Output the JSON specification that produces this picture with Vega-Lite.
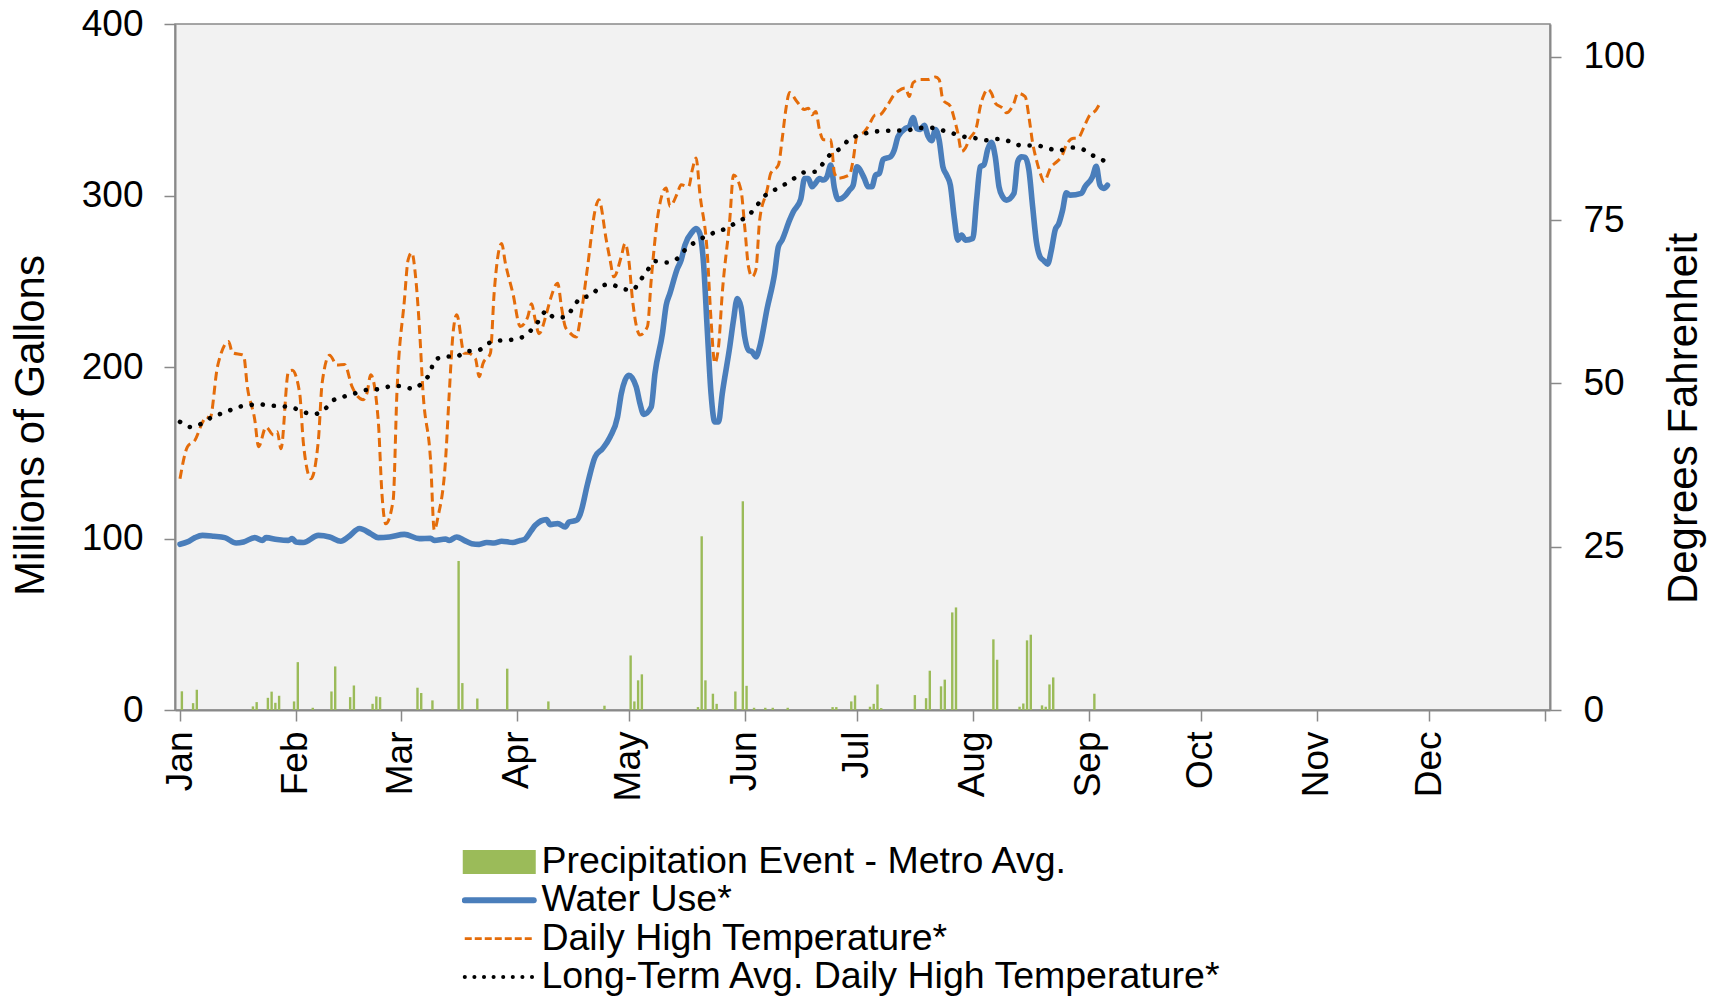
{
  "$schema": "https://vega.github.io/schema/vega-lite/v6.json",
  "width": 1375,
  "height": 686,
  "autosize": {"type": "none"},
  "padding": {"left": 175, "top": 24, "right": 167, "bottom": 292},
  "background": "white",
  "config": {
    "font": "Liberation Sans",
    "view": {"fill": "#F2F2F2", "stroke": "#898989", "strokeWidth": 1.5},
    "axis": {
      "grid": false,
      "domainColor": "#898989",
      "domainWidth": 2,
      "tickColor": "#898989",
      "tickWidth": 1.5,
      "tickSize": 11,
      "labelColor": "#000000",
      "labelFontSize": 37,
      "labelFont": "Liberation Sans",
      "labelFlush": false,
      "labelOverlap": false,
      "labelBound": false,
      "titleColor": "#000000",
      "titleFont": "Liberation Sans",
      "titleFontSize": 42,
      "titleFontWeight": "normal"
    }
  },
  "datasets": {
    "precip": [
      {"date": "2013-01-01T12:00:00Z", "value": 10.9},
      {"date": "2013-01-04T12:00:00Z", "value": 4.0},
      {"date": "2013-01-05T12:00:00Z", "value": 11.8},
      {"date": "2013-01-20T12:00:00Z", "value": 2.1},
      {"date": "2013-01-21T12:00:00Z", "value": 4.6},
      {"date": "2013-01-24T12:00:00Z", "value": 7.1},
      {"date": "2013-01-25T12:00:00Z", "value": 10.7},
      {"date": "2013-01-26T12:00:00Z", "value": 4.2},
      {"date": "2013-01-27T12:00:00Z", "value": 8.3},
      {"date": "2013-01-31T12:00:00Z", "value": 5.0},
      {"date": "2013-02-01T12:00:00Z", "value": 27.9},
      {"date": "2013-02-05T12:00:00Z", "value": 1.3},
      {"date": "2013-02-10T12:00:00Z", "value": 10.8},
      {"date": "2013-02-11T12:00:00Z", "value": 25.4},
      {"date": "2013-02-15T12:00:00Z", "value": 7.5},
      {"date": "2013-02-16T12:00:00Z", "value": 14.3},
      {"date": "2013-02-21T12:00:00Z", "value": 3.6},
      {"date": "2013-02-22T12:00:00Z", "value": 7.9},
      {"date": "2013-02-23T12:00:00Z", "value": 7.5},
      {"date": "2013-03-05T12:00:00Z", "value": 13.0},
      {"date": "2013-03-06T12:00:00Z", "value": 9.9},
      {"date": "2013-03-09T12:00:00Z", "value": 5.6},
      {"date": "2013-03-16T12:00:00Z", "value": 86.9},
      {"date": "2013-03-17T12:00:00Z", "value": 15.7},
      {"date": "2013-03-21T12:00:00Z", "value": 6.7},
      {"date": "2013-03-29T12:00:00Z", "value": 24.1},
      {"date": "2013-04-09T12:00:00Z", "value": 5.0},
      {"date": "2013-04-24T12:00:00Z", "value": 2.5},
      {"date": "2013-05-01T12:00:00Z", "value": 31.8},
      {"date": "2013-05-02T12:00:00Z", "value": 5.0},
      {"date": "2013-05-03T12:00:00Z", "value": 17.3},
      {"date": "2013-05-04T12:00:00Z", "value": 20.8},
      {"date": "2013-05-19T12:00:00Z", "value": 1.7},
      {"date": "2013-05-20T12:00:00Z", "value": 101.3},
      {"date": "2013-05-21T12:00:00Z", "value": 17.3},
      {"date": "2013-05-23T12:00:00Z", "value": 9.5},
      {"date": "2013-05-24T12:00:00Z", "value": 3.6},
      {"date": "2013-05-29T12:00:00Z", "value": 10.8},
      {"date": "2013-05-31T12:00:00Z", "value": 121.7},
      {"date": "2013-06-01T12:00:00Z", "value": 14.1},
      {"date": "2013-06-03T12:00:00Z", "value": 1.3},
      {"date": "2013-06-06T12:00:00Z", "value": 1.3},
      {"date": "2013-06-08T12:00:00Z", "value": 1.3},
      {"date": "2013-06-12T12:00:00Z", "value": 1.3},
      {"date": "2013-06-24T12:00:00Z", "value": 1.7},
      {"date": "2013-06-25T12:00:00Z", "value": 1.7},
      {"date": "2013-06-29T12:00:00Z", "value": 5.0},
      {"date": "2013-06-30T12:00:00Z", "value": 8.5},
      {"date": "2013-07-04T12:00:00Z", "value": 1.9},
      {"date": "2013-07-05T12:00:00Z", "value": 3.6},
      {"date": "2013-07-06T12:00:00Z", "value": 14.9},
      {"date": "2013-07-07T12:00:00Z", "value": 1.1},
      {"date": "2013-07-16T12:00:00Z", "value": 8.7},
      {"date": "2013-07-19T12:00:00Z", "value": 6.9},
      {"date": "2013-07-20T12:00:00Z", "value": 22.9},
      {"date": "2013-07-23T12:00:00Z", "value": 13.8},
      {"date": "2013-07-24T12:00:00Z", "value": 17.7},
      {"date": "2013-07-26T12:00:00Z", "value": 56.9},
      {"date": "2013-07-27T12:00:00Z", "value": 59.8},
      {"date": "2013-08-06T12:00:00Z", "value": 41.2},
      {"date": "2013-08-07T12:00:00Z", "value": 29.3},
      {"date": "2013-08-13T12:00:00Z", "value": 1.9},
      {"date": "2013-08-14T12:00:00Z", "value": 3.8},
      {"date": "2013-08-15T12:00:00Z", "value": 40.6},
      {"date": "2013-08-16T12:00:00Z", "value": 43.9},
      {"date": "2013-08-19T12:00:00Z", "value": 2.7},
      {"date": "2013-08-20T12:00:00Z", "value": 1.9},
      {"date": "2013-08-21T12:00:00Z", "value": 14.9},
      {"date": "2013-08-22T12:00:00Z", "value": 19.0},
      {"date": "2013-09-02T12:00:00Z", "value": 9.5}
    ],
    "water": [
      {"date": "2013-01-01", "value": 96.6}, {"date": "2013-01-03", "value": 98.0}, {"date": "2013-01-05", "value": 100.5},
      {"date": "2013-01-07", "value": 101.8}, {"date": "2013-01-10", "value": 101.3}, {"date": "2013-01-13", "value": 100.5},
      {"date": "2013-01-16", "value": 97.4}, {"date": "2013-01-18", "value": 98.0}, {"date": "2013-01-21", "value": 100.5},
      {"date": "2013-01-23", "value": 98.9}, {"date": "2013-01-24", "value": 100.5}, {"date": "2013-01-27", "value": 99.4},
      {"date": "2013-01-30", "value": 98.9}, {"date": "2013-01-31", "value": 99.9}, {"date": "2013-02-01", "value": 98.0},
      {"date": "2013-02-03", "value": 97.7}, {"date": "2013-02-07", "value": 101.8}, {"date": "2013-02-10", "value": 100.9},
      {"date": "2013-02-13", "value": 98.4}, {"date": "2013-02-15", "value": 100.9}, {"date": "2013-02-18", "value": 105.8},
      {"date": "2013-02-21", "value": 102.8}, {"date": "2013-02-23", "value": 100.5}, {"date": "2013-02-26", "value": 100.9},
      {"date": "2013-03-02", "value": 102.4}, {"date": "2013-03-06", "value": 99.9}, {"date": "2013-03-09", "value": 100.1},
      {"date": "2013-03-10", "value": 98.9}, {"date": "2013-03-13", "value": 99.7}, {"date": "2013-03-14", "value": 98.9},
      {"date": "2013-03-16", "value": 100.9}, {"date": "2013-03-18", "value": 98.9}, {"date": "2013-03-20", "value": 97.0},
      {"date": "2013-03-22", "value": 96.6}, {"date": "2013-03-24", "value": 97.7}, {"date": "2013-03-26", "value": 97.4},
      {"date": "2013-03-28", "value": 98.4}, {"date": "2013-03-31", "value": 97.7}, {"date": "2013-04-02", "value": 98.9},
      {"date": "2013-04-03", "value": 99.3}, {"date": "2013-04-05", "value": 104.8}, {"date": "2013-04-06", "value": 107.7},
      {"date": "2013-04-09", "value": 111.0}, {"date": "2013-04-10", "value": 108.1}, {"date": "2013-04-12", "value": 108.7},
      {"date": "2013-04-14", "value": 106.7}, {"date": "2013-04-15", "value": 109.6}, {"date": "2013-04-17", "value": 110.6},
      {"date": "2013-04-18", "value": 114.1}, {"date": "2013-04-20", "value": 132.0}, {"date": "2013-04-22", "value": 147.6},
      {"date": "2013-04-24", "value": 152.4}, {"date": "2013-04-26", "value": 159.2}, {"date": "2013-04-28", "value": 170.9},
      {"date": "2013-04-29", "value": 184.5}, {"date": "2013-04-30", "value": 192.3}, {"date": "2013-05-01", "value": 195.2},
      {"date": "2013-05-03", "value": 188.4}, {"date": "2013-05-04", "value": 178.7}, {"date": "2013-05-05", "value": 172.4},
      {"date": "2013-05-07", "value": 176.7}, {"date": "2013-05-08", "value": 196.2}, {"date": "2013-05-10", "value": 219.5},
      {"date": "2013-05-11", "value": 236.0}, {"date": "2013-05-12", "value": 242.9}, {"date": "2013-05-14", "value": 257.4},
      {"date": "2013-05-15", "value": 262.3}, {"date": "2013-05-16", "value": 271.0}, {"date": "2013-05-18", "value": 278.8},
      {"date": "2013-05-19", "value": 280.8}, {"date": "2013-05-20", "value": 277.8}, {"date": "2013-05-21", "value": 260.3},
      {"date": "2013-05-22", "value": 221.4}, {"date": "2013-05-23", "value": 184.5}, {"date": "2013-05-24", "value": 168.0},
      {"date": "2013-05-25", "value": 168.0}, {"date": "2013-05-26", "value": 184.5}, {"date": "2013-05-28", "value": 211.7},
      {"date": "2013-05-29", "value": 227.3}, {"date": "2013-05-30", "value": 239.9}, {"date": "2013-05-31", "value": 235.0},
      {"date": "2013-06-01", "value": 217.6}, {"date": "2013-06-02", "value": 209.8}, {"date": "2013-06-03", "value": 208.8},
      {"date": "2013-06-04", "value": 205.9}, {"date": "2013-06-05", "value": 211.7}, {"date": "2013-06-07", "value": 234.1},
      {"date": "2013-06-09", "value": 254.5}, {"date": "2013-06-10", "value": 270.1}, {"date": "2013-06-11", "value": 274.0},
      {"date": "2013-06-13", "value": 285.6}, {"date": "2013-06-14", "value": 290.5}, {"date": "2013-06-16", "value": 298.0},
      {"date": "2013-06-17", "value": 309.9}, {"date": "2013-06-18", "value": 309.9}, {"date": "2013-06-19", "value": 305.1},
      {"date": "2013-06-20", "value": 307.4}, {"date": "2013-06-21", "value": 309.9}, {"date": "2013-06-22", "value": 309.0},
      {"date": "2013-06-23", "value": 310.9}, {"date": "2013-06-24", "value": 317.7}, {"date": "2013-06-25", "value": 304.1},
      {"date": "2013-06-26", "value": 297.7}, {"date": "2013-06-28", "value": 300.2}, {"date": "2013-06-29", "value": 303.1},
      {"date": "2013-06-30", "value": 306.0}, {"date": "2013-07-01", "value": 316.7}, {"date": "2013-07-03", "value": 309.9},
      {"date": "2013-07-04", "value": 305.1}, {"date": "2013-07-05", "value": 305.1}, {"date": "2013-07-06", "value": 311.9},
      {"date": "2013-07-07", "value": 312.9}, {"date": "2013-07-08", "value": 321.0}, {"date": "2013-07-10", "value": 322.6},
      {"date": "2013-07-11", "value": 326.5}, {"date": "2013-07-12", "value": 334.3}, {"date": "2013-07-14", "value": 339.1},
      {"date": "2013-07-15", "value": 340.1}, {"date": "2013-07-16", "value": 345.5}, {"date": "2013-07-17", "value": 339.1},
      {"date": "2013-07-18", "value": 338.5}, {"date": "2013-07-19", "value": 341.0}, {"date": "2013-07-20", "value": 334.6},
      {"date": "2013-07-21", "value": 331.9}, {"date": "2013-07-22", "value": 338.5}, {"date": "2013-07-23", "value": 332.3},
      {"date": "2013-07-24", "value": 316.7}, {"date": "2013-07-25", "value": 311.9}, {"date": "2013-07-26", "value": 306.0},
      {"date": "2013-07-27", "value": 287.6}, {"date": "2013-07-28", "value": 274.0}, {"date": "2013-07-29", "value": 276.9},
      {"date": "2013-07-30", "value": 274.0}, {"date": "2013-08-01", "value": 275.0}, {"date": "2013-08-02", "value": 297.3},
      {"date": "2013-08-03", "value": 316.7}, {"date": "2013-08-04", "value": 318.0}, {"date": "2013-08-05", "value": 327.0},
      {"date": "2013-08-06", "value": 331.0}, {"date": "2013-08-07", "value": 322.6}, {"date": "2013-08-08", "value": 305.1},
      {"date": "2013-08-09", "value": 299.2}, {"date": "2013-08-10", "value": 297.3}, {"date": "2013-08-12", "value": 301.2},
      {"date": "2013-08-13", "value": 319.7}, {"date": "2013-08-14", "value": 322.6}, {"date": "2013-08-15", "value": 322.2},
      {"date": "2013-08-16", "value": 314.8}, {"date": "2013-08-17", "value": 293.4}, {"date": "2013-08-18", "value": 273.0},
      {"date": "2013-08-19", "value": 264.2}, {"date": "2013-08-20", "value": 262.0}, {"date": "2013-08-21", "value": 260.0},
      {"date": "2013-08-22", "value": 268.1}, {"date": "2013-08-23", "value": 279.8}, {"date": "2013-08-24", "value": 283.7},
      {"date": "2013-08-25", "value": 291.4}, {"date": "2013-08-26", "value": 301.6}, {"date": "2013-08-27", "value": 300.2},
      {"date": "2013-08-30", "value": 301.2}, {"date": "2013-08-31", "value": 305.1}, {"date": "2013-09-02", "value": 310.9},
      {"date": "2013-09-03", "value": 317.0}, {"date": "2013-09-04", "value": 306.0}, {"date": "2013-09-05", "value": 304.1},
      {"date": "2013-09-06", "value": 306.0}
    ],
    "temp": [
      {"date": "2013-01-01", "value": 35.4}, {"date": "2013-01-03", "value": 40.3}, {"date": "2013-01-05", "value": 41.3},
      {"date": "2013-01-07", "value": 44.0}, {"date": "2013-01-08", "value": 44.9}, {"date": "2013-01-09", "value": 44.6},
      {"date": "2013-01-11", "value": 52.5}, {"date": "2013-01-12", "value": 54.6}, {"date": "2013-01-14", "value": 56.4},
      {"date": "2013-01-15", "value": 54.7}, {"date": "2013-01-18", "value": 54.3}, {"date": "2013-01-19", "value": 49.5},
      {"date": "2013-01-21", "value": 44.4}, {"date": "2013-01-22", "value": 40.3}, {"date": "2013-01-24", "value": 43.3},
      {"date": "2013-01-26", "value": 42.1}, {"date": "2013-01-27", "value": 42.6}, {"date": "2013-01-28", "value": 40.0},
      {"date": "2013-01-30", "value": 51.8}, {"date": "2013-01-31", "value": 52.0}, {"date": "2013-02-02", "value": 48.5},
      {"date": "2013-02-03", "value": 40.8}, {"date": "2013-02-05", "value": 35.4}, {"date": "2013-02-07", "value": 41.3},
      {"date": "2013-02-08", "value": 50.0}, {"date": "2013-02-10", "value": 54.3}, {"date": "2013-02-12", "value": 52.8},
      {"date": "2013-02-14", "value": 52.9}, {"date": "2013-02-16", "value": 49.5}, {"date": "2013-02-19", "value": 47.5},
      {"date": "2013-02-20", "value": 48.5}, {"date": "2013-02-21", "value": 51.3}, {"date": "2013-02-23", "value": 44.4},
      {"date": "2013-02-24", "value": 33.1}, {"date": "2013-02-25", "value": 28.5}, {"date": "2013-02-27", "value": 32.1},
      {"date": "2013-02-28", "value": 48.5}, {"date": "2013-03-02", "value": 62.7}, {"date": "2013-03-03", "value": 68.9},
      {"date": "2013-03-04", "value": 70.0}, {"date": "2013-03-05", "value": 66.3}, {"date": "2013-03-06", "value": 58.7},
      {"date": "2013-03-07", "value": 48.5}, {"date": "2013-03-09", "value": 38.2}, {"date": "2013-03-10", "value": 27.5},
      {"date": "2013-03-11", "value": 29.6}, {"date": "2013-03-13", "value": 38.2}, {"date": "2013-03-14", "value": 48.5},
      {"date": "2013-03-15", "value": 57.6}, {"date": "2013-03-16", "value": 60.5}, {"date": "2013-03-18", "value": 54.6},
      {"date": "2013-03-19", "value": 54.6}, {"date": "2013-03-21", "value": 53.8}, {"date": "2013-03-22", "value": 51.0},
      {"date": "2013-03-23", "value": 53.0}, {"date": "2013-03-25", "value": 54.6}, {"date": "2013-03-26", "value": 63.8},
      {"date": "2013-03-28", "value": 71.4}, {"date": "2013-03-29", "value": 68.4}, {"date": "2013-03-31", "value": 63.8},
      {"date": "2013-04-02", "value": 58.7}, {"date": "2013-04-04", "value": 60.2}, {"date": "2013-04-05", "value": 62.2},
      {"date": "2013-04-06", "value": 59.7}, {"date": "2013-04-07", "value": 57.6}, {"date": "2013-04-09", "value": 60.7},
      {"date": "2013-04-10", "value": 62.8}, {"date": "2013-04-12", "value": 65.3}, {"date": "2013-04-13", "value": 61.7},
      {"date": "2013-04-14", "value": 58.7}, {"date": "2013-04-15", "value": 57.9}, {"date": "2013-04-17", "value": 57.1},
      {"date": "2013-04-18", "value": 59.7}, {"date": "2013-04-20", "value": 67.9}, {"date": "2013-04-22", "value": 76.5},
      {"date": "2013-04-23", "value": 78.1}, {"date": "2013-04-25", "value": 71.9}, {"date": "2013-04-26", "value": 68.9},
      {"date": "2013-04-27", "value": 66.3}, {"date": "2013-04-29", "value": 69.4}, {"date": "2013-04-30", "value": 71.4},
      {"date": "2013-05-01", "value": 68.9}, {"date": "2013-05-02", "value": 62.8}, {"date": "2013-05-04", "value": 57.4},
      {"date": "2013-05-06", "value": 58.7}, {"date": "2013-05-07", "value": 65.8}, {"date": "2013-05-09", "value": 76.5},
      {"date": "2013-05-11", "value": 79.9}, {"date": "2013-05-12", "value": 77.1}, {"date": "2013-05-14", "value": 79.1},
      {"date": "2013-05-15", "value": 80.4}, {"date": "2013-05-17", "value": 80.1}, {"date": "2013-05-18", "value": 82.7},
      {"date": "2013-05-19", "value": 84.5}, {"date": "2013-05-20", "value": 79.1}, {"date": "2013-05-22", "value": 69.9},
      {"date": "2013-05-23", "value": 59.7}, {"date": "2013-05-24", "value": 53.1}, {"date": "2013-05-25", "value": 55.6},
      {"date": "2013-05-26", "value": 63.8}, {"date": "2013-05-28", "value": 75.0}, {"date": "2013-05-29", "value": 81.9},
      {"date": "2013-05-31", "value": 79.6}, {"date": "2013-06-01", "value": 74.0}, {"date": "2013-06-02", "value": 67.9},
      {"date": "2013-06-03", "value": 66.3}, {"date": "2013-06-04", "value": 67.4}, {"date": "2013-06-05", "value": 75.0},
      {"date": "2013-06-07", "value": 79.6}, {"date": "2013-06-08", "value": 82.2}, {"date": "2013-06-10", "value": 83.4},
      {"date": "2013-06-11", "value": 87.3}, {"date": "2013-06-12", "value": 91.9}, {"date": "2013-06-13", "value": 94.5},
      {"date": "2013-06-15", "value": 93.1}, {"date": "2013-06-17", "value": 91.9}, {"date": "2013-06-18", "value": 92.1},
      {"date": "2013-06-19", "value": 91.1}, {"date": "2013-06-20", "value": 91.6}, {"date": "2013-06-21", "value": 88.8},
      {"date": "2013-06-22", "value": 87.3}, {"date": "2013-06-24", "value": 87.3}, {"date": "2013-06-25", "value": 82.2},
      {"date": "2013-06-26", "value": 81.4}, {"date": "2013-06-29", "value": 81.9}, {"date": "2013-06-30", "value": 84.2},
      {"date": "2013-07-01", "value": 87.8}, {"date": "2013-07-03", "value": 88.5}, {"date": "2013-07-04", "value": 89.3},
      {"date": "2013-07-06", "value": 91.1}, {"date": "2013-07-07", "value": 91.1}, {"date": "2013-07-09", "value": 92.4},
      {"date": "2013-07-11", "value": 94.2}, {"date": "2013-07-12", "value": 94.7}, {"date": "2013-07-14", "value": 95.2},
      {"date": "2013-07-15", "value": 93.9}, {"date": "2013-07-16", "value": 96.0}, {"date": "2013-07-18", "value": 96.5},
      {"date": "2013-07-20", "value": 96.5}, {"date": "2013-07-22", "value": 96.9}, {"date": "2013-07-23", "value": 96.5},
      {"date": "2013-07-24", "value": 93.4}, {"date": "2013-07-26", "value": 92.4}, {"date": "2013-07-27", "value": 90.6},
      {"date": "2013-07-28", "value": 88.3}, {"date": "2013-07-29", "value": 85.5}, {"date": "2013-07-30", "value": 86.0},
      {"date": "2013-07-31", "value": 87.3}, {"date": "2013-08-02", "value": 89.3}, {"date": "2013-08-03", "value": 92.4},
      {"date": "2013-08-04", "value": 94.2}, {"date": "2013-08-05", "value": 95.0}, {"date": "2013-08-06", "value": 94.4},
      {"date": "2013-08-07", "value": 92.9}, {"date": "2013-08-09", "value": 92.1}, {"date": "2013-08-10", "value": 91.4},
      {"date": "2013-08-12", "value": 92.9}, {"date": "2013-08-13", "value": 94.4}, {"date": "2013-08-15", "value": 93.9},
      {"date": "2013-08-16", "value": 90.8}, {"date": "2013-08-17", "value": 86.8}, {"date": "2013-08-18", "value": 84.2},
      {"date": "2013-08-19", "value": 82.2}, {"date": "2013-08-20", "value": 80.9}, {"date": "2013-08-22", "value": 83.2},
      {"date": "2013-08-23", "value": 83.7}, {"date": "2013-08-25", "value": 85.0}, {"date": "2013-08-26", "value": 86.5},
      {"date": "2013-08-28", "value": 87.5}, {"date": "2013-08-29", "value": 87.5}, {"date": "2013-08-31", "value": 89.6},
      {"date": "2013-09-01", "value": 90.8}, {"date": "2013-09-03", "value": 91.9}, {"date": "2013-09-04", "value": 92.9}
    ],
    "avg": [
      {"date": "2013-01-01", "value": 44.1}, {"date": "2013-01-04", "value": 43.3}, {"date": "2013-01-07", "value": 43.9},
      {"date": "2013-01-10", "value": 45.0}, {"date": "2013-01-13", "value": 45.5}, {"date": "2013-01-16", "value": 46.3},
      {"date": "2013-01-19", "value": 46.6}, {"date": "2013-01-22", "value": 46.8}, {"date": "2013-01-25", "value": 46.6},
      {"date": "2013-01-28", "value": 46.5}, {"date": "2013-01-31", "value": 46.3}, {"date": "2013-02-03", "value": 45.6},
      {"date": "2013-02-06", "value": 45.3}, {"date": "2013-02-09", "value": 46.2}, {"date": "2013-02-11", "value": 47.4},
      {"date": "2013-02-14", "value": 48.0}, {"date": "2013-02-17", "value": 48.5}, {"date": "2013-02-20", "value": 49.0},
      {"date": "2013-02-23", "value": 49.1}, {"date": "2013-02-26", "value": 49.5}, {"date": "2013-03-01", "value": 49.6},
      {"date": "2013-03-04", "value": 49.2}, {"date": "2013-03-07", "value": 50.2}, {"date": "2013-03-09", "value": 51.8},
      {"date": "2013-03-10", "value": 53.5}, {"date": "2013-03-13", "value": 54.1}, {"date": "2013-03-16", "value": 54.1},
      {"date": "2013-03-18", "value": 54.8}, {"date": "2013-03-22", "value": 55.1}, {"date": "2013-03-24", "value": 56.0},
      {"date": "2013-03-27", "value": 56.5}, {"date": "2013-03-31", "value": 56.7}, {"date": "2013-04-03", "value": 57.2},
      {"date": "2013-04-05", "value": 58.2}, {"date": "2013-04-07", "value": 59.6}, {"date": "2013-04-09", "value": 61.1},
      {"date": "2013-04-11", "value": 60.1}, {"date": "2013-04-14", "value": 60.1}, {"date": "2013-04-16", "value": 61.5},
      {"date": "2013-04-18", "value": 63.0}, {"date": "2013-04-21", "value": 63.5}, {"date": "2013-04-23", "value": 64.6},
      {"date": "2013-04-26", "value": 65.2}, {"date": "2013-04-29", "value": 64.5}, {"date": "2013-05-02", "value": 64.3},
      {"date": "2013-05-04", "value": 65.7}, {"date": "2013-05-06", "value": 67.3}, {"date": "2013-05-08", "value": 68.7},
      {"date": "2013-05-11", "value": 68.5}, {"date": "2013-05-14", "value": 69.1}, {"date": "2013-05-16", "value": 70.4},
      {"date": "2013-05-19", "value": 71.7}, {"date": "2013-05-22", "value": 72.6}, {"date": "2013-05-24", "value": 73.1},
      {"date": "2013-05-27", "value": 73.7}, {"date": "2013-05-30", "value": 74.7}, {"date": "2013-06-02", "value": 75.7},
      {"date": "2013-06-04", "value": 77.0}, {"date": "2013-06-06", "value": 78.5}, {"date": "2013-06-09", "value": 79.6},
      {"date": "2013-06-11", "value": 80.2}, {"date": "2013-06-14", "value": 81.3}, {"date": "2013-06-17", "value": 82.3},
      {"date": "2013-06-20", "value": 82.4}, {"date": "2013-06-22", "value": 83.7}, {"date": "2013-06-24", "value": 85.1},
      {"date": "2013-06-27", "value": 86.1}, {"date": "2013-06-29", "value": 87.4}, {"date": "2013-07-02", "value": 88.0},
      {"date": "2013-07-05", "value": 88.5}, {"date": "2013-07-08", "value": 88.6}, {"date": "2013-07-11", "value": 88.7},
      {"date": "2013-07-14", "value": 88.7}, {"date": "2013-07-18", "value": 89.1}, {"date": "2013-07-21", "value": 89.1},
      {"date": "2013-07-24", "value": 88.7}, {"date": "2013-07-27", "value": 88.2}, {"date": "2013-07-30", "value": 87.7},
      {"date": "2013-08-02", "value": 87.5}, {"date": "2013-08-05", "value": 87.2}, {"date": "2013-08-08", "value": 87.4},
      {"date": "2013-08-11", "value": 87.0}, {"date": "2013-08-14", "value": 86.4}, {"date": "2013-08-18", "value": 86.4},
      {"date": "2013-08-21", "value": 86.0}, {"date": "2013-08-24", "value": 85.6}, {"date": "2013-08-27", "value": 86.1},
      {"date": "2013-08-30", "value": 85.9}, {"date": "2013-09-02", "value": 84.9}, {"date": "2013-09-05", "value": 84.1}
    ]
  },
  "layer": [
    {
      "layer": [
        {
          "data": {"name": "precip"},
          "mark": {"type": "bar", "size": 2.4},
          "encoding": {
            "x": {
              "field": "date", "type": "temporal",
              "scale": {"type": "utc", "domain": [{"year": 2013, "month": 1, "date": 1, "utc": true}, {"year": 2014, "month": 1, "date": 1, "utc": true}], "nice": false},
              "axis": {
                "title": null,
                "values": [
                  {"year": 2013, "month": 1, "date": 1, "utc": true}, {"year": 2013, "month": 2, "date": 1, "utc": true},
                  {"year": 2013, "month": 3, "date": 1, "utc": true}, {"year": 2013, "month": 4, "date": 1, "utc": true},
                  {"year": 2013, "month": 5, "date": 1, "utc": true}, {"year": 2013, "month": 6, "date": 1, "utc": true},
                  {"year": 2013, "month": 7, "date": 1, "utc": true}, {"year": 2013, "month": 8, "date": 1, "utc": true},
                  {"year": 2013, "month": 9, "date": 1, "utc": true}, {"year": 2013, "month": 10, "date": 1, "utc": true},
                  {"year": 2013, "month": 11, "date": 1, "utc": true}, {"year": 2013, "month": 12, "date": 1, "utc": true},
                  {"year": 2014, "month": 1, "date": 1, "utc": true}
                ],
                "labelExpr": "utcyear(datum.value) > 2013 ? '' : utcFormat(datum.value, '%b')",
                "labelAngle": 270,
                "labelAlign": "right",
                "labelBaseline": "middle",
                "labelPadding": 10
              }
            },
            "y": {
              "field": "value", "type": "quantitative",
              "scale": {"domain": [0, 400], "nice": false},
              "axis": {
                "values": [0, 100, 200, 300, 400],
                "title": "Millions of Gallons",
                "titleAngle": 270,
                "titleAlign": "center",
                "titleBaseline": "middle",
                "titleX": -145,
                "titleY": 401,
                "labelPadding": 21
              }
            },
            "color": {
              "datum": "Precipitation Event - Metro Avg.",
              "type": "nominal",
              "scale": {
                "domain": ["Precipitation Event - Metro Avg.", "Water Use*", "Daily High Temperature*", "Long-Term Avg. Daily High Temperature*"],
                "range": ["#9BBB59", "#4A7EBB", "#E46C0A", "#000000"]
              },
              "legend": {
                "title": null,
                "orient": "none",
                "legendX": 287,
                "legendY": 819,
                "direction": "vertical",
                "columns": 1,
                "padding": 0,
                "symbolSize": 4761,
                "clipHeight": 38,
                "rowPadding": 0.3,
                "labelOffset": 23.4,
                "symbolOffset": 18.5,
                "labelFontSize": 37.5,
                "labelFont": "Liberation Sans",
                "labelColor": "#000000",
                "labelLimit": 0,
                "encode": {
                  "symbols": {
                    "update": {
                      "shape": {"signal": "datum.value === 'Precipitation Event - Metro Avg.' ? 'M-1,-0.29H1V0.29H-1Z' : 'stroke'"},
                      "fill": {"signal": "datum.value === 'Precipitation Event - Metro Avg.' ? '#9BBB59' : 'transparent'"},
                      "stroke": {"signal": "datum.value === 'Precipitation Event - Metro Avg.' ? 'transparent' : datum.value === 'Water Use*' ? '#4A7EBB' : datum.value === 'Daily High Temperature*' ? '#E46C0A' : '#000000'"},
                      "strokeWidth": {"signal": "datum.value === 'Water Use*' ? 6 : datum.value === 'Daily High Temperature*' ? 2.8 : 4"},
                      "strokeDash": {"signal": "datum.value === 'Daily High Temperature*' ? [7, 3] : datum.value === 'Long-Term Avg. Daily High Temperature*' ? [0.1, 9.5] : []"},
                      "strokeCap": {"signal": "datum.value === 'Long-Term Avg. Daily High Temperature*' || datum.value === 'Water Use*' ? 'round' : 'butt'"},
                      "opacity": {"value": 1}
                    }
                  }
                }
              }
            }
          }
        },
        {
          "data": {"name": "water"},
          "mark": {"type": "line", "interpolate": "monotone", "strokeWidth": 5.6, "strokeCap": "round", "strokeJoin": "round"},
          "encoding": {
            "x": {"field": "date", "type": "temporal"},
            "y": {"field": "value", "type": "quantitative"},
            "color": {"datum": "Water Use*", "type": "nominal"}
          }
        }
      ]
    },
    {
      "layer": [
        {
          "data": {"name": "temp"},
          "mark": {"type": "line", "interpolate": "monotone", "strokeWidth": 3, "strokeDash": [9, 5]},
          "encoding": {
            "x": {"field": "date", "type": "temporal"},
            "y": {
              "field": "value", "type": "quantitative",
              "scale": {"domain": [0, 105], "nice": false},
              "axis": {
                "orient": "right",
                "values": [0, 25, 50, 75, 100],
                "title": "Degrees Fahrenheit",
                "titleAngle": 270,
                "titleAlign": "center",
                "titleBaseline": "middle",
                "titleX": 133,
                "titleY": 394,
                "labelPadding": 22
              }
            },
            "color": {"datum": "Daily High Temperature*", "type": "nominal"}
          }
        },
        {
          "data": {"name": "avg"},
          "mark": {"type": "line", "interpolate": "monotone", "strokeWidth": 4.6, "strokeDash": [0.1, 11], "strokeCap": "round"},
          "encoding": {
            "x": {"field": "date", "type": "temporal"},
            "y": {"field": "value", "type": "quantitative"},
            "color": {"datum": "Long-Term Avg. Daily High Temperature*", "type": "nominal"}
          }
        }
      ]
    }
  ],
  "resolve": {"scale": {"y": "independent"}}
}
